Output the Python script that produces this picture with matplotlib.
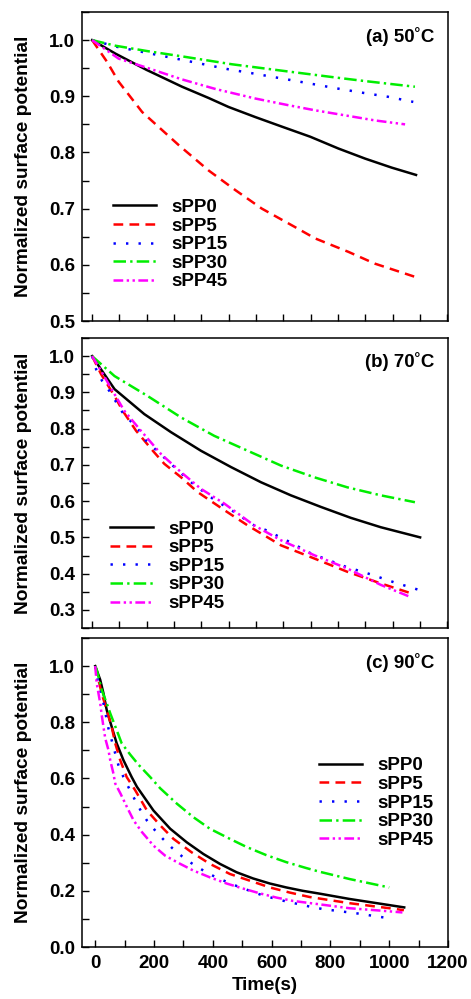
import matplotlib
matplotlib.use("Agg")
from matplotlib import pyplot as plt
from matplotlib.ticker import MultipleLocator, FormatStrFormatter

plt.rcParams['font.family'] = ['Liberation Sans', 'DejaVu Sans']
plt.rcParams['font.weight'] = 'bold'
plt.rcParams['lines.scale_dashes'] = False

labels = ['sPP0', 'sPP5', 'sPP15', 'sPP30', 'sPP45']

# (a) 50 C
t_a0 = [0, 85, 199, 329, 426, 499, 597, 694, 798, 901, 999, 1096, 1185]
v_a0 = [1.0, 0.976, 0.947, 0.917, 0.897, 0.881, 0.863, 0.846, 0.828, 0.807, 0.789, 0.773, 0.760]
t_a5 = [0, 55, 97, 183, 317, 426, 524, 621, 743, 816, 938, 1035, 1185]
v_a5 = [1.0, 0.961, 0.926, 0.872, 0.813, 0.768, 0.733, 0.700, 0.667, 0.647, 0.623, 0.602, 0.578]
t_a15 = [0, 91, 183, 317, 408, 499, 585, 725, 816, 907, 993, 1084, 1175]
v_a15 = [1.0, 0.988, 0.979, 0.966, 0.957, 0.948, 0.941, 0.929, 0.921, 0.913, 0.906, 0.899, 0.890]
t_a30 = [0, 85, 207, 329, 511, 719, 914, 999, 1181]
v_a30 = [1.0, 0.990, 0.980, 0.971, 0.957, 0.944, 0.932, 0.927, 0.917]
t_a45 = [0, 97, 199, 329, 451, 597, 719, 816, 938, 1035, 1145]
v_a45 = [1.0, 0.967, 0.951, 0.930, 0.913, 0.896, 0.884, 0.875, 0.865, 0.857, 0.850]

# (b) 70 C
t_b0 = [0, 33, 82, 191, 289, 398, 508, 618, 727, 837, 946, 1056, 1200]
v_b0 = [1.0, 0.963, 0.909, 0.840, 0.790, 0.739, 0.694, 0.652, 0.616, 0.584, 0.554, 0.528, 0.500]
t_b5 = [0, 33, 82, 112, 161, 222, 264, 325, 386, 484, 569, 691, 812, 934, 1056, 1166]
v_b5 = [1.0, 0.950, 0.890, 0.849, 0.794, 0.739, 0.703, 0.666, 0.625, 0.575, 0.533, 0.478, 0.442, 0.405, 0.373, 0.346]
t_b15 = [0, 15, 37, 63, 110, 173, 197, 295, 362, 441, 520, 593, 636, 721, 800, 928, 1019, 1105, 1196]
v_b15 = [1.0, 0.963, 0.931, 0.904, 0.846, 0.794, 0.767, 0.698, 0.652, 0.607, 0.570, 0.533, 0.520, 0.488, 0.456, 0.419, 0.398, 0.376, 0.355]
t_b30 = [0, 82, 203, 325, 447, 569, 691, 812, 934, 1056, 1181]
v_b30 = [1.0, 0.945, 0.890, 0.831, 0.780, 0.739, 0.698, 0.666, 0.638, 0.616, 0.597]
t_b45 = [0, 33, 82, 118, 173, 252, 325, 398, 484, 593, 691, 812, 934, 1056, 1160]
v_b45 = [1.0, 0.959, 0.895, 0.849, 0.799, 0.730, 0.680, 0.634, 0.593, 0.533, 0.492, 0.451, 0.414, 0.369, 0.337]

# (c) 90 C
t_c0 = [0, 17, 28, 39, 56, 73, 96, 124, 142, 198, 255, 311, 368, 424, 481, 537, 594, 650, 706, 763, 865, 1051]
v_c0 = [1.0, 0.951, 0.903, 0.844, 0.784, 0.725, 0.665, 0.605, 0.570, 0.486, 0.421, 0.373, 0.331, 0.296, 0.266, 0.244,
        0.226, 0.212, 0.200, 0.190, 0.171, 0.141]
t_c5 = [0, 11, 22, 39, 56, 68, 85, 107, 136, 176, 221, 266, 328, 390, 458, 526, 594, 661, 729, 865, 1023, 1050]
v_c5 = [1.0, 0.951, 0.903, 0.844, 0.784, 0.725, 0.665, 0.605, 0.558, 0.486, 0.433, 0.385, 0.337, 0.296, 0.260, 0.236,
        0.212, 0.194, 0.178, 0.156, 0.135, 0.131]
t_c15 = [0, 5, 17, 28, 45, 56, 68, 79, 96, 114, 133, 153, 176, 202, 230, 261, 295, 328, 368, 407, 447, 486, 526,
         566, 605, 650, 690, 729, 774, 820, 865, 910, 943, 983]
v_c15 = [1.0, 0.963, 0.915, 0.868, 0.778, 0.736, 0.689, 0.647, 0.605, 0.567, 0.528, 0.489, 0.450, 0.417, 0.385, 0.353,
         0.323, 0.298, 0.272, 0.250, 0.232, 0.215, 0.200, 0.185, 0.174, 0.162, 0.153, 0.144, 0.135, 0.129, 0.123,
         0.117, 0.111, 0.105]
t_c30 = [0, 5, 22, 39, 51, 73, 90, 119, 148, 187, 221, 278, 334, 390, 458, 515, 582, 650, 718, 763, 865, 1000]
v_c30 = [1.0, 0.987, 0.915, 0.868, 0.832, 0.772, 0.725, 0.685, 0.648, 0.605, 0.565, 0.510, 0.462, 0.421, 0.385, 0.356,
         0.327, 0.302, 0.281, 0.268, 0.242, 0.212]
t_c45 = [0, 5, 11, 17, 22, 28, 34, 45, 51, 62, 68, 86, 108, 131, 159, 198, 238, 289, 334, 390, 447, 503, 560, 616,
         673, 740, 865, 977, 1045]
v_c45 = [1.0, 0.939, 0.903, 0.868, 0.826, 0.784, 0.743, 0.701, 0.665, 0.617, 0.582, 0.546, 0.498, 0.450, 0.409, 0.361,
         0.325, 0.296, 0.272, 0.248, 0.226, 0.208, 0.191, 0.176, 0.164, 0.155, 0.138, 0.129, 0.123]

colors = ['black', '#ff0000', '#0000ff', '#00ee00', '#ff00ff']
dashes = [None, (0, (7, 4.5)), (0, (1.7, 7.3)), (0, (9, 3, 1.7, 3)), (0, (7, 2.5, 1.7, 2.5, 1.7, 2.5))]

fig = plt.figure(figsize=(4.71, 9.99), dpi=100)
L, W = 82 / 471, 366 / 471
ax_a = fig.add_axes([L, 1 - 321 / 999, W, 309 / 999])
ax_b = fig.add_axes([L, 1 - 628 / 999, W, 290 / 999])
ax_c = fig.add_axes([L, 1 - 947 / 999, W, 309 / 999])

panels = [
    (ax_a, [(t_a0, v_a0), (t_a5, v_a5), (t_a15, v_a15), (t_a30, v_a30), (t_a45, v_a45)],
     '(a) 50˚C', (0.5, 1.05), 0.1, 0.05, (-37, 1302), (0.240, 0.801)),
    (ax_b, [(t_b0, v_b0), (t_b5, v_b5), (t_b15, v_b15), (t_b30, v_b30), (t_b45, v_b45)],
     '(b) 70˚C', (0.25, 1.05), 0.1, 0.05, (-37, 1302), (0.234, 0.479)),
    (ax_c, [(t_c0, v_c0), (t_c5, v_c5), (t_c15, v_c15), (t_c30, v_c30), (t_c45, v_c45)],
     '(c) 90˚C', (0.0, 1.1), 0.2, 0.1, (-45, 1200), (0.677, 0.242)),
]

for ax, series, title, ylim, ymaj, ymin, xlim, leg in panels:
    for (t, v), lab, c, d in zip(series, labels, colors, dashes):
        line, = ax.plot(t, v, color=c, lw=1.8, label=lab)
        if d is not None:
            line.set_linestyle(d)
    ax.set_xlim(*xlim)
    ax.set_ylim(*ylim)
    ax.xaxis.set_major_locator(MultipleLocator(200))
    ax.xaxis.set_minor_locator(MultipleLocator(100))
    ax.yaxis.set_major_locator(MultipleLocator(ymaj))
    ax.yaxis.set_minor_locator(MultipleLocator(ymin))
    ax.tick_params(which='both', direction='in', top=False, right=False, labelsize=13.5, width=1, length=5)
    ax.tick_params(axis='y', pad=5)
    ax.tick_params(axis='x', pad=6)
    for s in ax.spines.values():
        s.set_linewidth(1.1)
    ax.yaxis.set_major_formatter(FormatStrFormatter('%.1f'))
    ax.set_ylabel('Normalized surface potential', fontsize=13.8, fontweight='bold', labelpad=12)
    ax.text(0.964, 0.92, title, transform=ax.transAxes, ha='right', va='center',
            fontsize=13.5, fontweight='bold')
    ax.legend(loc='upper left', bbox_to_anchor=leg, bbox_transform=fig.transFigure,
              frameon=False, fontsize=13.5, handlelength=2.3, handletextpad=0.8,
              labelspacing=0.08, borderpad=0, borderaxespad=0)

ax_a.tick_params(labelbottom=False)
ax_b.tick_params(labelbottom=False)
ax_c.set_xticks([0, 200, 400, 600, 800, 1000, 1200])
ax_c.set_xlabel('Time(s)', fontsize=13.5, fontweight='bold', labelpad=3)

fig.savefig('out.png', dpi=100)
